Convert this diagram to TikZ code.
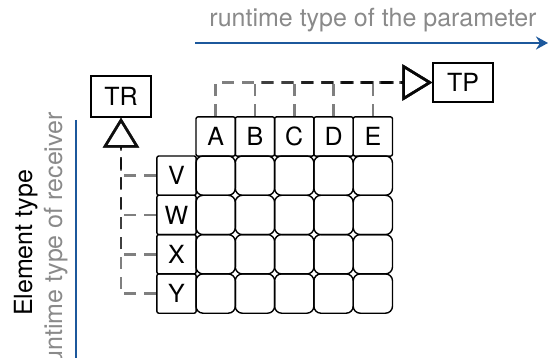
\documentclass[tikz,border=0pt]{standalone}
\usepackage{fontspec}
\setmainfont{TeX Gyre Heros}
\usetikzlibrary{arrows.meta}

\definecolor{rtblue}{RGB}{28,88,156}
\definecolor{rtgray}{RGB}{138,138,138}

\begin{document}
\begin{tikzpicture}[x=1pt,y=1pt,
  every node/.style={font=\fontsize{25}{30}\selectfont},
  box/.style={draw, line width=1.4pt, minimum width=39.3pt, minimum height=39.3pt, inner sep=0pt, rounded corners=2pt},
  cell/.style={box, rounded corners=7pt},
  link/.style={draw=black, draw opacity=0.5, line width=2.6pt, dash pattern=on 12pt off 8pt,
    -{Triangle[open, length=30pt, width=36pt]}},
  axis/.style={rtblue, line width=2.6pt}]

\useasboundingbox (0,0) rectangle (549,-358);

% type boxes
\node[box, rounded corners=0pt, minimum width=60pt, minimum height=41pt] (tr) at (121,-96.5) {TR};
\node[box, rounded corners=0pt, minimum width=60pt, minimum height=39pt] (tp) at (463,-82.5) {TP};

% column and row heads
\foreach \l [count=\i] in {A,B,C,D,E}
\node[box] (h\l) at ({196+39.3*(\i-0.5)},-136.5) {\l};
\foreach \l [count=\j] in {V,W,X,Y}
\node[box] (r\l) at (176.5,{-156-39.3*(\j-0.5)}) {\l};

% table
\foreach \i in {1,...,5}
\foreach \j in {1,...,4}
\node[cell] (c\i\j) at ({196+39.3*(\i-0.5)},{-156-39.3*(\j-0.5)}) {};

% subtype links
\foreach \l in {A,B,C,D,E}
\draw[link] (h\l.north) -- (h\l.north |- tp.west) -- (tp.west);
\foreach \l in {V,W,X,Y}
\draw[link] (r\l.west) -- (r\l.west -| tr.south) -- (tr.south);

% axes
\coordinate (pl) at (195,-43);
\coordinate (pr) at (548,-43);
\draw[axis, -{Stealth[length=12pt, width=13pt, inset=4pt]}] (pl) -- (pr);
\node[text=rtgray, anchor=base] (ptext) at (373,-27) {runtime type of the parameter};

\coordinate (rt) at (76,-120);
\coordinate (rb) at (76,-358);
\draw[axis] (rt) -- (rb);
\node[rotate=90, anchor=base] (etext) at (32,-243) {Element type};
\node[rotate=90, anchor=base, text=rtgray] (rtext) at (62,-242.5) {runtime type of receiver};

\end{tikzpicture}
\end{document}
